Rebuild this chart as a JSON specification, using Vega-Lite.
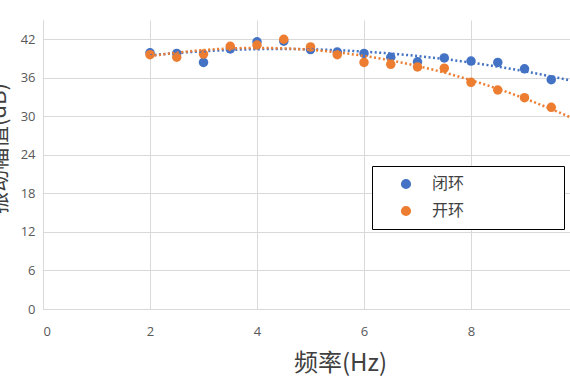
{
  "$schema": "https://vega.github.io/schema/vega-lite/v6.json",
  "autosize": {"type": "none"},
  "padding": {"left": 43, "top": 20, "right": 0, "bottom": 81},
  "width": 527,
  "height": 289,
  "background": "white",
  "config": {
    "view": {"stroke": null},
    "font": "Noto Sans CJK SC",
    "axis": {
      "gridColor": "#d9d9d9",
      "gridWidth": 1,
      "domainColor": "#d9d9d9",
      "domainWidth": 1,
      "ticks": false,
      "labelColor": "#595959",
      "labelFont": "Open Sans",
      "labelFontSize": 13,
      "titleColor": "#404040",
      "titleFontWeight": "normal"
    }
  },
  "data": {
    "values": [
      {"series": "闭环", "f": 2, "v": 39.9},
      {"series": "闭环", "f": 2.5, "v": 39.8},
      {"series": "闭环", "f": 3, "v": 38.4},
      {"series": "闭环", "f": 3.5, "v": 40.5},
      {"series": "闭环", "f": 4, "v": 41.6},
      {"series": "闭环", "f": 4.5, "v": 41.7},
      {"series": "闭环", "f": 5, "v": 40.4},
      {"series": "闭环", "f": 5.5, "v": 40.0},
      {"series": "闭环", "f": 6, "v": 39.8},
      {"series": "闭环", "f": 6.5, "v": 39.2},
      {"series": "闭环", "f": 7, "v": 38.5},
      {"series": "闭环", "f": 7.5, "v": 39.1},
      {"series": "闭环", "f": 8, "v": 38.6},
      {"series": "闭环", "f": 8.5, "v": 38.4},
      {"series": "闭环", "f": 9, "v": 37.4},
      {"series": "闭环", "f": 9.5, "v": 35.7},
      {"series": "开环", "f": 2, "v": 39.6},
      {"series": "开环", "f": 2.5, "v": 39.2},
      {"series": "开环", "f": 3, "v": 39.7},
      {"series": "开环", "f": 3.5, "v": 40.9},
      {"series": "开环", "f": 4, "v": 41.1},
      {"series": "开环", "f": 4.5, "v": 42.0},
      {"series": "开环", "f": 5, "v": 40.8},
      {"series": "开环", "f": 5.5, "v": 39.6},
      {"series": "开环", "f": 6, "v": 38.4},
      {"series": "开环", "f": 6.5, "v": 38.1},
      {"series": "开环", "f": 7, "v": 37.7},
      {"series": "开环", "f": 7.5, "v": 37.5},
      {"series": "开环", "f": 8, "v": 35.3},
      {"series": "开环", "f": 8.5, "v": 34.1},
      {"series": "开环", "f": 9, "v": 32.9},
      {"series": "开环", "f": 9.5, "v": 31.4}
    ]
  },
  "layer": [
    {
      "mark": {"type": "point", "filled": true, "opacity": 1, "size": 90, "clip": true},
      "encoding": {
        "x": {
          "field": "f", "type": "quantitative",
          "scale": {"domain": [0, 9.85], "nice": false, "zero": false},
          "axis": {
            "values": [0, 2, 4, 6, 8],
            "format": "d",
            "labelPadding": 16,
            "title": "频率(Hz)",
            "titleFontSize": 24,
            "titleX": 297,
            "titleY": 61,
            "titleAnchor": null,
            "titleBaseline": "alphabetic",
            "titleAlign": "center"
          }
        },
        "y": {
          "field": "v", "type": "quantitative",
          "scale": {"domain": [0, 45], "nice": false},
          "axis": {
            "values": [0, 6, 12, 18, 24, 30, 36, 42],
            "labelPadding": 8,
            "title": "振动幅值(dB)",
            "titleFontSize": 22,
            "titleAngle": -90,
            "titleX": -45,
            "titleY": 128,
            "titleBaseline": "middle",
            "titleAlign": "center"
          }
        },
        "color": {
          "field": "series", "type": "nominal",
          "scale": {"domain": ["闭环", "开环"], "range": ["#4472C4", "#ED7D31"]},
          "legend": {
            "title": null,
            "orient": "none",
            "legendX": 329,
            "legendY": 146,
            "fillColor": "white",
            "strokeColor": "#000000",
            "padding": 10,
            "symbolOffset": 16,
            "symbolSize": 75,
            "symbolType": "circle",
            "labelOffset": 18,
            "labelFontSize": 16,
            "labelColor": "#404040",
            "labelFont": "Noto Sans CJK SC",
            "rowPadding": 11,
            "labelLimit": 300,
            "labelExpr": "datum.label + '\u00a0\u00a0\u00a0\u00a0\u00a0\u00a0\u00a0\u00a0\u00a0\u00a0\u00a0\u00a0\u00a0\u00a0\u00a0\u00a0\u00a0\u00a0\u00a0\u00a0\u00a0\u00a0\u00a0\u00a0\u00a0\u200b'"
          }
        }
      }
    },
    {
      "transform": [
        {"regression": "v", "on": "f", "groupby": ["series"], "method": "poly", "order": 2, "extent": [2, 9.85]}
      ],
      "mark": {"type": "line", "strokeDash": [2, 2.5], "strokeWidth": 2.5, "clip": true},
      "encoding": {
        "x": {"field": "f", "type": "quantitative"},
        "y": {"field": "v", "type": "quantitative"},
        "color": {"field": "series", "type": "nominal", "legend": null}
      }
    }
  ]
}
